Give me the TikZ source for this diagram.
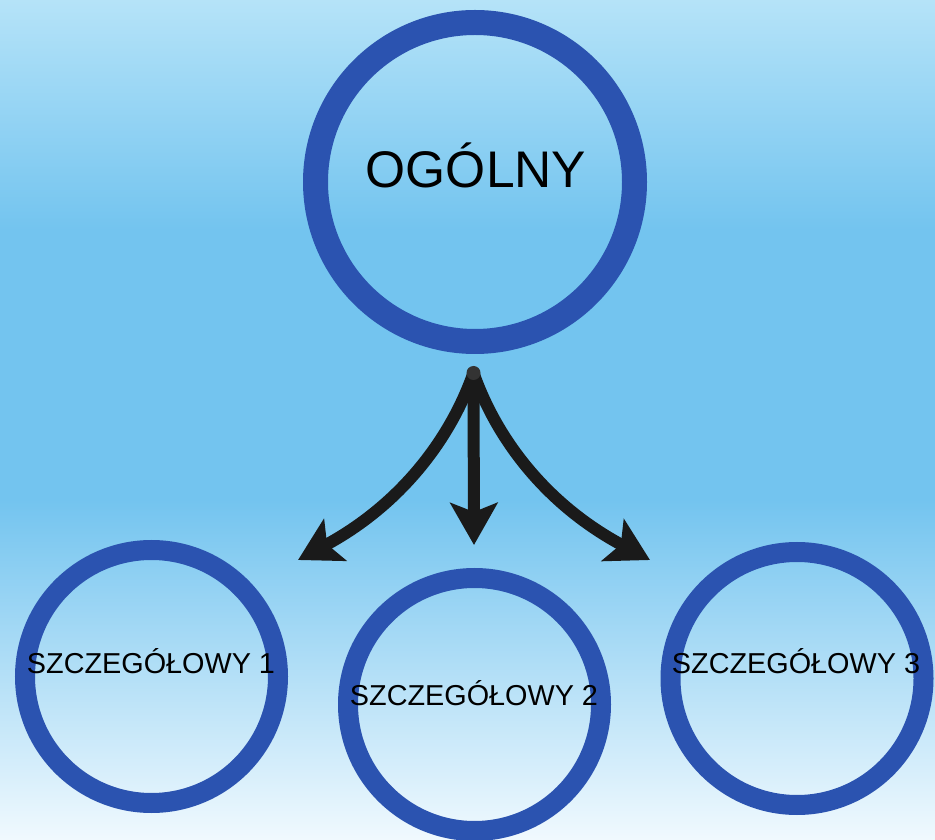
\documentclass[tikz,border=0pt]{standalone}
\usepackage{fontspec}
\setmainfont{Liberation Sans}
\usetikzlibrary{arrows.meta}
\definecolor{bgtop}{RGB}{181,227,248}
\definecolor{bgmid}{RGB}{115,196,239}
\definecolor{bgbot}{RGB}{240,249,254}
\definecolor{ringblue}{RGB}{43,83,176}
\definecolor{arrowblack}{RGB}{26,26,26}
\definecolor{dotgray}{RGB}{51,51,51}
\tikzset{
  ring/.style={circle, draw=ringblue, inner sep=0pt, outer sep=0pt},
  bigring/.style={ring, line width=25pt, minimum size=319pt},
  smallring/.style={ring, line width=20pt, minimum size=253pt},
  bigtext/.style={anchor=base, inner sep=0pt, font=\fontsize{51.5pt}{60pt}\selectfont, text=black},
  smalltext/.style={anchor=base, inner sep=0pt, font=\fontsize{28.8pt}{34pt}\selectfont, text=black},
  conn/.style={draw=arrowblack, line width=12pt, -{Stealth[length=42pt,width=47pt,inset=9pt]}}
}
\begin{document}
\begin{tikzpicture}[x=1pt,y=1pt]
\useasboundingbox (0,0) rectangle (935,839);
% background
\shade[top color=bgtop, bottom color=bgmid] (0,839) rectangle (935,609);
\fill[bgmid] (0,609.5) rectangle (935,339);
\shade[top color=bgmid, bottom color=bgbot] (0,339.5) rectangle (935,0);
% circles
\node[bigring] (top) at (475,657) {};
\node[smallring] (c1) at (151.5,162.5) {};
\node[smallring] (c2) at (474.5,134.5) {};
\node[smallring] (c3) at (797,160.5) {};
% texts
\node[bigtext] (ttop) at (476,651) {OGÓLNY};
\node[smalltext] (t1) at (151,165) {SZCZEGÓŁOWY 1};
\node[smalltext] (t2) at (474,134) {SZCZEGÓŁOWY 2};
\node[smalltext] (t3) at (796,165) {SZCZEGÓŁOWY 3};
% connectors
\coordinate (src) at (473.5,466);
\coordinate (tipL) at (298,279);
\coordinate (tipM) at (474,294);
\coordinate (tipR) at (650,279);
\draw[conn] (src) .. controls (450,399) and (400,334) .. (tipL);
\draw[conn] (src) -- (tipM);
\draw[conn] (src) .. controls (497,399) and (547,334) .. (tipR);
\fill[dotgray] (src) circle (7pt);
\end{tikzpicture}
\end{document}
